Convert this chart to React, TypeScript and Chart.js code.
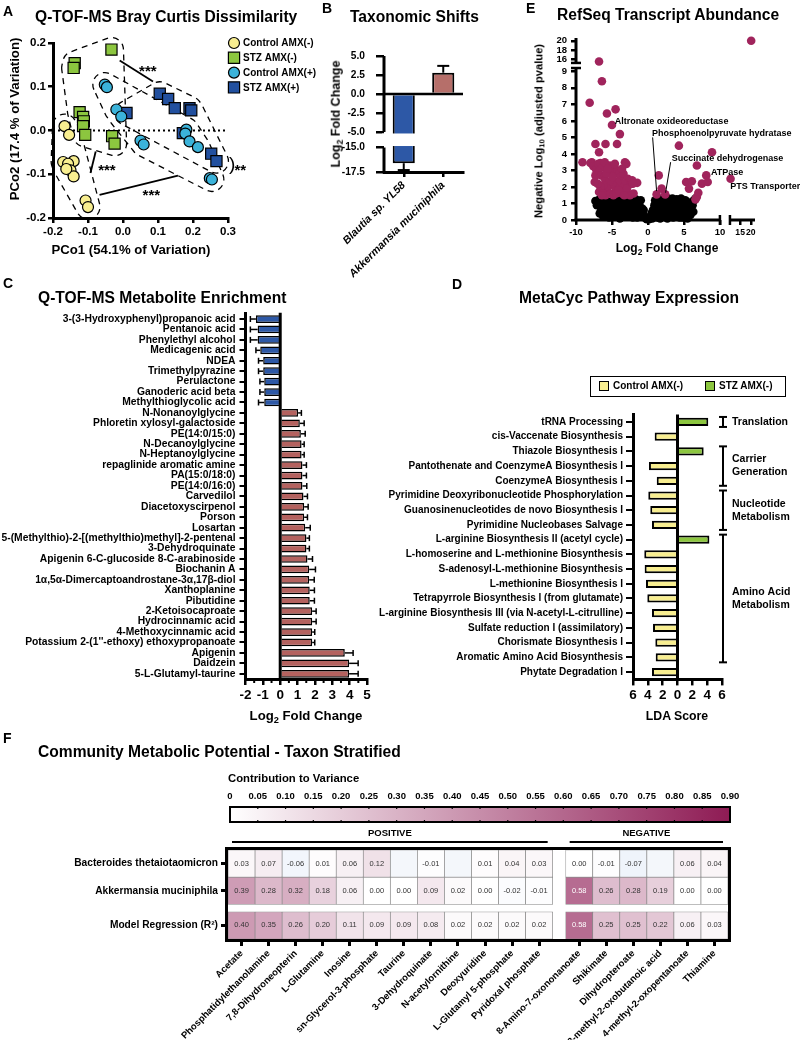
import React, { useEffect, useRef } from 'react';
import { Chart, registerables, LinearScale } from 'chart.js';

Chart.register(...registerables);

const FF = "'Liberation Sans', Arial, Helvetica, sans-serif";

// ======================= DATA =======================
// Panel A – PCoA coordinates [PCo1, PCo2]
const A_CTRL_NEG = [[-0.167, 0.010], [-0.154, -0.010], [-0.171, -0.072], [-0.141, -0.070], [-0.157, -0.076], [-0.150, -0.091], [-0.141, -0.105], [-0.162, -0.088], [-0.107, -0.160], [-0.100, -0.175]];
const A_STZ_NEG = [[-0.138, 0.154], [-0.141, 0.143], [-0.033, 0.185], [-0.124, 0.042], [-0.114, 0.031], [-0.112, 0.021], [-0.114, 0.010], [-0.108, -0.010], [-0.031, -0.013], [-0.024, -0.030]];
const A_CTRL_POS = [[-0.052, 0.105], [-0.046, 0.099], [-0.019, 0.048], [-0.005, 0.032], [0.050, -0.023], [0.059, -0.032], [0.181, 0.002], [0.178, -0.007], [0.190, -0.025], [0.214, -0.038], [0.248, -0.109], [0.254, -0.112]];
const A_STZ_POS = [[0.010, 0.040], [0.105, 0.084], [0.129, 0.072], [0.148, 0.051], [0.190, 0.051], [0.195, 0.046], [0.171, -0.006], [0.252, -0.053], [0.267, -0.070]];
const A_GROUPS = ['Control AMX(-)', 'STZ AMX(-)', 'Control AMX(+)', 'STZ AMX(+)'];
const A_SIG_LINES = [[[-0.0095, 0.160], [0.0857, 0.112]], [[-0.078, -0.048], [-0.093, -0.097]], [[-0.067, -0.147], [0.157, -0.103]]];
const A_SIG_TEXT: [string, number, number][] = [['***', 0.071, 0.143], ['***', -0.046, -0.082], ['***', 0.081, -0.141], ['**', 0.335, -0.082]];
const A_BRACKET = [0.312, -0.078];

// Panel B
const B_TAXA = ['Blautia sp. YL58', 'Akkermansia muciniphila'];
const B_LFC = [-16.6, 2.8];
const B_ERR = [0.7, 0.9];
const B_TICKS = [-17.5, -15, -5, -2.5, 0, 2.5, 5];

// Panel E – volcano [log2FC, -log10 padj]
const E_NS = [
  [-7.1, 0.9], [-6.9, 1.2], [-6.7, 0.4], [-6.5, 0.7], [-6.3, 1.0], [-6.2, 0.2], [-5.9, 1.25], [-5.8, 0.55], [-5.6, 0.85], [-5.4, 0.15],
  [-5.2, 1.1], [-5.1, 0.4], [-4.9, 0.7], [-4.7, 1.3], [-4.5, 0.25], [-4.4, 0.95], [-4.2, 0.55], [-4.0, 1.2], [-3.9, 0.1], [-3.7, 0.75],
  [-3.5, 0.35], [-3.4, 1.05], [-3.2, 0.6], [-3.0, 1.3], [-2.9, 0.2], [-2.8, 0.9], [-2.6, 0.45], [-2.4, 1.15], [-2.3, 0.7], [-2.1, 0.15],
  [-2.0, 0.95], [-1.9, 0.4], [-1.7, 1.25], [-1.6, 0.65], [-1.4, 0.3], [-1.3, 1.0], [-1.1, 0.8], [-0.9, 0.5], [-0.7, 0.35], [-0.5, 0.2],
  [-0.3, 0.1], [-1.0, 1.2], [-7.3, 1.15], [-6.0, 0.75], [-5.3, 0.6], [-4.6, 0.5], [-3.8, 0.95], [-3.1, 0.55], [-2.5, 0.8], [-1.8, 0.8],
  [-4.1, 0.3], [-5.7, 1.05], [-3.6, 1.25], [-2.2, 1.3], [-1.2, 0.55], [-0.8, 0.7], [-0.15, 0.05], [-6.4, 0.45], [-5.0, 0.95], [-4.8, 0.2],
  [-3.3, 0.85], [-2.7, 1.1], [-1.5, 0.15], [-0.6, 0.6], [-6.6, 1.3],
  [0.15, 0.05], [0.3, 0.2], [0.5, 0.4], [0.7, 0.6], [0.8, 0.2], [0.9, 0.9], [1.0, 1.2], [1.2, 0.5], [1.3, 0.15], [1.5, 0.85],
  [1.6, 1.25], [1.8, 0.4], [2.0, 0.7], [2.1, 1.1], [2.3, 0.2], [2.5, 0.55], [2.6, 0.95], [2.8, 1.3], [3.0, 0.35], [3.1, 0.75],
  [3.3, 1.1], [3.5, 0.15], [3.6, 0.55], [3.8, 0.9], [4.0, 1.25], [4.1, 0.3], [4.3, 0.7], [4.5, 1.05], [4.7, 0.45], [4.8, 0.15],
  [5.0, 0.85], [5.2, 1.2], [5.3, 0.5], [5.5, 0.1], [5.6, 0.8], [5.8, 1.05], [6.0, 0.6], [6.2, 0.9], [6.4, 1.2], [6.6, 1.3],
  [1.1, 0.3], [0.6, 0.1], [1.7, 0.1], [2.7, 0.1], [3.9, 0.6], [4.4, 0.15], [5.9, 0.3], [6.3, 0.5], [2.4, 1.25], [3.4, 1.3],
  [4.6, 1.3], [1.4, 0.6], [2.9, 0.55], [5.1, 0.3], [2.2, 0.9]
];
const E_SIG = [
  [-6.8, 15.6], [20.2, 20.0],
  [-6.4, 8.4], [-8.1, 7.1], [-4.5, 6.7], [-5.7, 6.45], [-5.0, 5.75], [-3.9, 5.2], [-7.3, 4.6], [-5.9, 4.6], [-4.3, 4.6], [-6.8, 4.1], [-7.8, 3.5], [-9.1, 3.5],
  [-8.0, 3.45], [-7.6, 3.25], [-7.2, 3.05], [-6.9, 3.4], [-6.6, 3.45], [-6.3, 3.2], [-6.9, 2.9], [-7.3, 2.7], [-6.5, 2.7], [-6.1, 2.6],
  [-5.9, 2.4], [-5.3, 3.3], [-5.0, 3.1], [-4.7, 3.2], [-4.5, 2.9], [-4.2, 3.0], [-4.0, 2.8], [-3.8, 2.6], [-3.2, 3.5], [-3.0, 3.4],
  [-3.4, 2.8], [-2.8, 2.5], [-2.6, 2.3], [-2.3, 2.2], [-3.5, 2.2], [-3.9, 2.0], [-4.3, 2.3], [-4.6, 2.0], [-5.0, 2.2], [-5.4, 2.3],
  [-5.7, 1.9], [-6.2, 2.1], [-6.6, 2.0], [-7.0, 2.2], [-7.4, 2.3], [-6.8, 1.7], [-6.3, 1.6], [-5.9, 1.5], [-5.2, 1.6], [-4.8, 1.5],
  [-4.4, 1.6], [-3.6, 1.6], [-3.2, 1.7], [-2.9, 1.9], [-2.5, 1.5], [-2.0, 1.6], [-4.1, 1.8], [-5.5, 2.9], [-5.8, 2.8], [-4.9, 2.6],
  [-3.6, 3.1], [-6.0, 3.5], [-5.6, 3.1], [-3.3, 1.5], [-2.2, 2.4], [-4.6, 3.4], [-6.4, 1.5], [-1.5, 2.25], [-2.1, 2.2],
  [4.3, 4.5], [8.9, 4.1], [6.8, 3.3], [8.1, 2.7], [10.5, 2.5], [5.3, 2.3], [6.1, 2.35], [5.7, 1.9], [7.5, 2.2], [8.3, 2.3],
  [7.0, 1.65], [6.8, 1.4], [6.6, 1.25], [1.5, 2.7], [1.9, 1.9], [1.2, 1.55], [2.4, 1.55]
];
const E_X_TICKS = [-10, -5, 0, 5, 10, 15, 20];
const E_Y_TICKS = [0, 1, 2, 3, 4, 5, 6, 7, 8, 9, 16, 18, 20];
const E_NOTES = [
  { t: 'Altronate oxideoreductase', x: -4.6, y: 5.98 },
  { t: 'Phosphoenolpyruvate hydratase', x: 0.55, y: 5.26, from: [0.65, 5.0], to: [1.2, 1.75] },
  { t: 'Succinate dehydrogenase', x: 3.3, y: 3.75, from: [3.15, 3.5], to: [2.45, 1.65] },
  { t: 'ATPase', x: 8.75, y: 2.9 },
  { t: 'PTS Transporter', x: 10.3, y: 2.0 },
];

// Panel C
const C_NAMES = ['3-(3-Hydroxyphenyl)propanoic acid', 'Pentanoic acid', 'Phenylethyl alcohol', 'Medicagenic acid', 'NDEA', 'Trimethylpyrazine', 'Perulactone', 'Ganoderic acid beta', 'Methylthioglycolic acid', 'N-Nonanoylglycine', 'Phloretin xylosyl-galactoside', 'PE(14:0/15:0)', 'N-Decanoylglycine', 'N-Heptanoylglycine', 'repaglinide aromatic amine', 'PA(15:0/18:0)', 'PE(14:0/16:0)', 'Carvedilol', 'Diacetoxyscirpenol', 'Porson', 'Losartan', '5-(Methylthio)-2-[(methylthio)methyl]-2-pentenal', '3-Dehydroquinate', 'Apigenin 6-C-glucoside 8-C-arabinoside', 'Biochanin A', '1α,5α-Dimercaptoandrostane-3α,17β-diol', 'Xanthoplanine', 'Pibutidine', '2-Ketoisocaproate', 'Hydrocinnamic acid', '4-Methoxycinnamic acid', "Potassium 2-(1''-ethoxy) ethoxypropanoate", 'Apigenin', 'Daidzein', '5-L-Glutamyl-taurine'];
const C_LFC = [-1.40, -1.30, -1.30, -1.15, -0.98, -0.98, -0.92, -0.92, -0.92, 1.03, 1.13, 1.19, 1.23, 1.23, 1.28, 1.28, 1.28, 1.34, 1.38, 1.38, 1.44, 1.51, 1.51, 1.57, 1.67, 1.67, 1.70, 1.70, 1.84, 1.84, 1.84, 1.84, 3.72, 3.97, 3.97];
const C_ERR = [0.32, 0.42, 0.42, 0.25, 0.27, 0.27, 0.25, 0.25, 0.33, 0.19, 0.25, 0.25, 0.15, 0.15, 0.23, 0.23, 0.25, 0.23, 0.23, 0.19, 0.29, 0.17, 0.17, 0.29, 0.36, 0.29, 0.27, 0.27, 0.23, 0.23, 0.15, 0.15, 0.48, 0.52, 0.52];
const C_MINOR = [-1.5, -0.5, 0.5, 1.5, 2.5, 3.5, 4.5];

// Panel D
const D_PATHWAYS = ['tRNA Processing', 'cis-Vaccenate Biosynthesis', 'Thiazole Biosynthesis I', 'Pantothenate and CoenzymeA Biosynthesis I', 'CoenzymeA Biosynthesis I', 'Pyrimidine Deoxyribonucleotide Phosphorylation', 'Guanosinenucleotides de novo Biosynthesis I', 'Pyrimidine Nucleobases Salvage', 'L-arginine Biosynthesis II (acetyl cycle)', 'L-homoserine and L-methionine Biosynthesis', 'S-adenosyl-L-methionine Biosynthesis', 'L-methionine Biosynthesis I', 'Tetrapyrrole Biosynthesis I (from glutamate)', 'L-arginine Biosynthesis III (via N-acetyl-L-citrulline)', 'Sulfate reduction I (assimilatory)', 'Chorismate Biosynthesis I', 'Aromatic Amino Acid Biosynthesis', 'Phytate Degradation I'];
const D_LDA = [4.15, -3.08, 3.53, -3.85, -2.8, -3.94, -3.67, -3.44, 4.3, -4.48, -4.43, -4.25, -4.07, -3.44, -3.30, -2.99, -2.94, -3.44];
const D_GROUPS = [
  { name: ['Translation'], from: 0, to: 0 },
  { name: ['Carrier', 'Generation'], from: 2, to: 4 },
  { name: ['Nucleotide', 'Metabolism'], from: 5, to: 7 },
  { name: ['Amino Acid', 'Metabolism'], from: 8, to: 16 },
];

// Panel F
const F_POS = ['Acetate', 'Phosphatidylethanolamine', '7,8-Dihydroneopterin', 'L-Glutamine', 'Inosine', 'sn-Glycerol-3-phosphate', 'Taurine', '3-Dehydroquinate', 'N-acetylornithine', 'Deoxyuridine', 'L-Glutamyl 5-phosphate', 'Pyridoxal phosphate'];
const F_NEG = ['8-Amino-7-oxononanoate', 'Shikimate', 'Dihydropteroate', '3-methyl-2-oxobutanoic acid', '4-methyl-2-oxopentanoate', 'Thiamine'];
const F_ROWS = ['Bacteroides thetaiotaomicron', 'Akkermansia muciniphila', 'Model Regression (R²)'];
const F_BACT = [0.03, 0.07, -0.06, 0.01, 0.06, 0.12, null, -0.01, null, 0.01, 0.04, 0.03, 0.00, -0.01, -0.07, null, 0.06, 0.04];
const F_AKK = [0.39, 0.28, 0.32, 0.18, 0.06, 0.00, 0.00, 0.09, 0.02, 0.00, -0.02, -0.01, 0.58, 0.26, 0.28, 0.19, 0.00, 0.00];
const F_MODEL = [0.40, 0.35, 0.26, 0.20, 0.11, 0.09, 0.09, 0.08, 0.02, 0.02, 0.02, 0.02, 0.58, 0.25, 0.25, 0.22, 0.06, 0.03];
const F_CB_TICKS = [0, 0.05, 0.1, 0.15, 0.2, 0.25, 0.3, 0.35, 0.4, 0.45, 0.5, 0.55, 0.6, 0.65, 0.7, 0.75, 0.8, 0.85, 0.9];

// ======================= STYLE / LAYOUT =======================
const YELLOW = '#F8EE90';
const GREEN = '#8CC63F';
const CYAN = '#3BB3DA';
const NAVY = '#22509F';
const BLUE = '#2D58A6';
const ROSE = '#B4625F';
const ROSE_B = '#B66F6A';
const MAROON = '#A0245C';
const HEAT_HI = [142, 27, 84];

const W = 800, H = 1040;
// chart areas in page pixels: [left, top, right, bottom]
const LAYOUT: Record<string, number[]> = {
  A: [53, 43, 228, 218],
  B: [384, 56, 463, 172],
  E: [576, 38, 755, 220],
  C: [245.5, 313.8, 367, 679],
  D: [633, 414.6, 722, 679.4],
  F: [228, 850, 728, 939],
  CB: [230, 807, 730, 822],
};
// broken-axis pieces: [valueFrom, valueTo, fractionFrom, fractionTo]
const B_Y_PIECES = [[-17.5, -15, 0, 0.211], [-5, 5, 0.345, 1]];
const E_X_PIECES = [[-10, 10, 0, 0.804], [10.2, 22, 0.86, 1]];
const E_Y_PIECES = [[0, 9.2, 0, 0.835], [15.3, 20.6, 0.863, 1]];
const F_GAP = 0.48;
const F_ROW_POS = [0, 1, 2.27];

// padding: sides occupied by an axis get 0 padding; the axis box itself is sized to fill that margin
const padFor = (key: string, sides: string[]) => {
  const r = LAYOUT[key];
  return {
    left: sides.includes('left') ? 0 : r[0],
    top: sides.includes('top') ? 0 : r[1],
    right: W - r[2],
    bottom: sides.includes('bottom') ? 0 : H - r[3],
  };
};
const fitTo = (key: string, side: string) => {
  const r = LAYOUT[key];
  const size = side === 'left' ? r[0] : side === 'top' ? r[1] : H - r[3];
  return (s: any) => { if (s.isHorizontal()) s.height = size; else s.width = size; };
};
const fnt = (size: number, extra: any = {}) => ({ family: FF, weight: 'bold', size, ...extra });

function axisOpts(key: string, side: string, o: any = {}) {
  const { border, grid, ticks, ...rest } = o;
  return {
    position: side,
    afterFit: fitTo(key, side),
    border: { display: true, width: 3, color: '#000', ...(border || {}) },
    grid: { display: true, drawOnChartArea: false, drawTicks: true, tickLength: 6, lineWidth: 2.5, color: '#000', offset: false, ...(grid || {}) },
    ticks: { color: '#000', autoSkip: false, padding: 3, font: fnt(11), ...(ticks || {}) },
    ...rest,
  };
}

function pieceDecimal(v: number, P: number[][]) {
  const lin = (p: number[], val: number) => p[2] + (val - p[0]) / (p[1] - p[0]) * (p[3] - p[2]);
  if (v <= P[0][1]) return lin(P[0], v);
  for (let i = 0; i < P.length; i++) {
    const p = P[i];
    if (v >= p[0] && v <= p[1]) return lin(p, v);
    const q = P[i + 1];
    if (q && v > p[1] && v < q[0]) return p[3] + (v - p[1]) / (q[0] - p[1]) * (q[2] - p[3]);
  }
  return lin(P[P.length - 1], v);
}

function registerBroken(id: string, P: number[][]) {
  class Broken extends (LinearScale as any) {
    static id = id;
    static defaults = (LinearScale as any).defaults;
    getPixelForValue(value: any) {
      if (value === null || value === undefined || Number.isNaN(+value)) return NaN;
      return (this as any).getPixelForDecimal(pieceDecimal(+value, P));
    }
  }
  Chart.register(Broken as any);
}
registerBroken('brokenBY', B_Y_PIECES);
registerBroken('brokenEX', E_X_PIECES);
registerBroken('brokenEY', E_Y_PIECES);

function seg(ctx: any, x1: number, y1: number, x2: number, y2: number) {
  ctx.beginPath(); ctx.moveTo(x1, y1); ctx.lineTo(x2, y2); ctx.stroke();
}

function hull(pts: number[][]) {
  const p = pts.slice().sort((a, b) => a[0] - b[0] || a[1] - b[1]);
  const cross = (o: number[], a: number[], b: number[]) => (a[0] - o[0]) * (b[1] - o[1]) - (a[1] - o[1]) * (b[0] - o[0]);
  const lower: number[][] = [];
  for (const q of p) { while (lower.length >= 2 && cross(lower[lower.length - 2], lower[lower.length - 1], q) <= 0) lower.pop(); lower.push(q); }
  const upper: number[][] = [];
  for (let i = p.length - 1; i >= 0; i--) { const q = p[i]; while (upper.length >= 2 && cross(upper[upper.length - 2], upper[upper.length - 1], q) <= 0) upper.pop(); upper.push(q); }
  upper.pop(); lower.pop();
  return lower.concat(upper);
}

function roundedHull(ctx: any, pts: number[][], r: number) {
  const h = hull(pts); const n = h.length;
  if (n < 2) return;
  ctx.beginPath();
  for (let i = 0; i < n; i++) {
    const prev = h[(i - 1 + n) % n], cur = h[i], next = h[(i + 1) % n];
    const a1 = Math.atan2(-(cur[0] - prev[0]), cur[1] - prev[1]);
    let a2 = Math.atan2(-(next[0] - cur[0]), next[1] - cur[1]);
    while (a2 < a1) a2 += Math.PI * 2;
    ctx.arc(cur[0], cur[1], r, a1, a2, false);
  }
  ctx.closePath(); ctx.stroke();
}

function marker(ctx: any, style: string, x: number, y: number, color: string) {
  ctx.save(); ctx.fillStyle = color; ctx.strokeStyle = '#000'; ctx.lineWidth = 1.2; ctx.setLineDash([]);
  ctx.beginPath();
  if (style === 'circle') ctx.arc(x, y, 5.5, 0, Math.PI * 2); else ctx.rect(x - 5.6, y - 5.6, 11.2, 11.2);
  ctx.fill(); ctx.stroke(); ctx.restore();
}

function heat(v: any) {
  if (v === null || v === undefined) return 'rgb(244,247,251)';
  if (v >= 0) {
    const t = Math.min(v / 0.9, 1);
    return `rgb(${Math.round(255 - t * (255 - HEAT_HI[0]))},${Math.round(255 - t * (255 - HEAT_HI[1]))},${Math.round(255 - t * (255 - HEAT_HI[2]))})`;
  }
  const t = Math.min(-v / 0.9, 1);
  return `rgb(${Math.round(255 - t * 200)},${Math.round(255 - t * 140)},${Math.round(255 - t * 50)})`;
}

const baseOpts = (key: string, sides: string[]) => ({
  responsive: false, animation: false as const, events: [] as any[],
  layout: { autoPadding: false, padding: padFor(key, sides) },
  plugins: { legend: { display: false }, tooltip: { enabled: false } },
});

// ======================= PLUGINS =======================
const pluginA = {
  id: 'pA',
  beforeDatasetsDraw(chart: any) {
    const { ctx, chartArea: ca, scales: { x, y } } = chart;
    ctx.save();
    ctx.strokeStyle = '#000'; ctx.lineWidth = 2; ctx.setLineDash([2, 3]);
    const y0 = y.getPixelForValue(0);
    seg(ctx, ca.left, y0, ca.right, y0);
    ctx.setLineDash([6, 5]); ctx.lineWidth = 1.3;
    for (const ds of chart.data.datasets) {
      const pts = ds.data.map((p: any) => [x.getPixelForValue(p.x), y.getPixelForValue(p.y)]);
      roundedHull(ctx, pts, 12);
    }
    ctx.restore();
  },
  afterDraw(chart: any) {
    const { ctx, scales: { x, y } } = chart;
    ctx.save();
    ctx.strokeStyle = '#000'; ctx.lineWidth = 1.8;
    for (const [[x1, y1], [x2, y2]] of A_SIG_LINES) seg(ctx, x.getPixelForValue(x1), y.getPixelForValue(y1), x.getPixelForValue(x2), y.getPixelForValue(y2));
    ctx.fillStyle = '#000'; ctx.font = `bold 15px ${FF}`; ctx.textAlign = 'center'; ctx.textBaseline = 'middle';
    for (const [t, tx, ty] of A_SIG_TEXT) ctx.fillText(t, x.getPixelForValue(tx), y.getPixelForValue(ty) + 4);
    ctx.font = `19px ${FF}`;
    ctx.fillText(')', x.getPixelForValue(A_BRACKET[0]), y.getPixelForValue(A_BRACKET[1]));
    ctx.font = `bold 10px ${FF}`; ctx.textAlign = 'left';
    chart.data.datasets.forEach((ds: any, i: number) => {
      const ly = 43 + i * 14.8;
      marker(ctx, ds.pointStyle, 234, ly, ds.backgroundColor);
      ctx.fillStyle = '#000';
      ctx.fillText(ds.label, 243, ly + 0.5);
    });
    ctx.restore();
  },
};

const pluginB = {
  id: 'pB',
  afterDatasetsDraw(chart: any) {
    const { ctx, chartArea: ca, scales: { x, y } } = chart;
    ctx.save();
    ctx.strokeStyle = '#000'; ctx.lineWidth = 2;
    B_LFC.forEach((v, i) => {
      const xc = x.getPixelForValue(i);
      const y1 = y.getPixelForValue(v), y2 = y.getPixelForValue(v + Math.sign(v) * B_ERR[i]);
      seg(ctx, xc, y1, xc, y2); seg(ctx, xc - 6, y2, xc + 6, y2);
    });
    const gTop = y.getPixelForValue(B_Y_PIECES[1][0]) + 1.5;
    const gBot = y.getPixelForValue(B_Y_PIECES[0][1]) - 1.5;
    ctx.fillStyle = '#fff'; ctx.fillRect(ca.left - 2, gTop, ca.right - ca.left + 10, gBot - gTop);
    ctx.lineWidth = 3;
    B_Y_PIECES.forEach((p, i) => {
      const a = y.getPixelForValue(p[0]) + (i === 0 ? 1.5 : 0);
      seg(ctx, ca.left, a, ca.left, y.getPixelForValue(p[1]));
    });
    ctx.lineWidth = 2.5;
    const y0 = y.getPixelForValue(0);
    seg(ctx, ca.left, y0, ca.right, y0);
    ctx.restore();
  },
};

const pluginE = {
  id: 'pE',
  beforeDatasetsDraw(chart: any) {
    const { ctx, chartArea: ca, scales: { x, y } } = chart;
    ctx.save(); ctx.strokeStyle = '#000'; ctx.lineWidth = 3;
    E_X_PIECES.forEach((p, i) => seg(ctx, x.getPixelForValue(p[0]) - (i === 0 ? 1.5 : 0), ca.bottom, x.getPixelForValue(p[1]), ca.bottom));
    E_Y_PIECES.forEach((p) => seg(ctx, ca.left, y.getPixelForValue(p[0]), ca.left, y.getPixelForValue(p[1])));
    ctx.lineWidth = 2.5;
    for (let i = 0; i < E_X_PIECES.length - 1; i++) {
      const a = x.getPixelForValue(E_X_PIECES[i][1]), b = x.getPixelForValue(E_X_PIECES[i + 1][0]);
      seg(ctx, a, ca.bottom - 5, a, ca.bottom + 5); seg(ctx, b, ca.bottom - 5, b, ca.bottom + 5);
    }
    for (let i = 0; i < E_Y_PIECES.length - 1; i++) {
      const a = y.getPixelForValue(E_Y_PIECES[i][1]), b = y.getPixelForValue(E_Y_PIECES[i + 1][0]);
      seg(ctx, ca.left - 5, a, ca.left + 5, a); seg(ctx, ca.left - 5, b, ca.left + 5, b);
    }
    ctx.restore();
  },
  afterDatasetsDraw(chart: any) {
    const { ctx, scales: { x, y } } = chart;
    ctx.save();
    ctx.strokeStyle = '#000'; ctx.lineWidth = 1;
    ctx.fillStyle = '#000'; ctx.font = `bold 9px ${FF}`; ctx.textAlign = 'left'; ctx.textBaseline = 'middle';
    for (const n of E_NOTES) {
      if (n.from && n.to) seg(ctx, x.getPixelForValue(n.from[0]), y.getPixelForValue(n.from[1]), x.getPixelForValue(n.to[0]), y.getPixelForValue(n.to[1]));
      ctx.fillText(n.t, x.getPixelForValue(n.x), y.getPixelForValue(n.y));
    }
    ctx.restore();
  },
};

const pluginC = {
  id: 'pC',
  afterDatasetsDraw(chart: any) {
    const { ctx, chartArea: ca, scales: { x, y } } = chart;
    ctx.save(); ctx.strokeStyle = '#000';
    ctx.lineWidth = 1.5;
    C_LFC.forEach((v, i) => {
      const yc = y.getPixelForValue(i);
      const xa = x.getPixelForValue(v), xb = x.getPixelForValue(v + Math.sign(v) * C_ERR[i]);
      seg(ctx, xa, yc, xb, yc); seg(ctx, xb, yc - 3, xb, yc + 3);
    });
    ctx.lineWidth = 3;
    const x0 = x.getPixelForValue(0);
    seg(ctx, x0, ca.top - 1, x0, ca.bottom);
    ctx.lineWidth = 2;
    for (const m of C_MINOR) { const px = x.getPixelForValue(m); seg(ctx, px, ca.bottom, px, ca.bottom + 4); }
    ctx.restore();
  },
};

const pluginD = {
  id: 'pD',
  afterDatasetsDraw(chart: any) {
    const { ctx, chartArea: ca, scales: { x, y } } = chart;
    ctx.save(); ctx.strokeStyle = '#000'; ctx.fillStyle = '#000';
    ctx.lineWidth = 3;
    const x0 = x.getPixelForValue(0);
    seg(ctx, x0, ca.top, x0, ca.bottom);
    ctx.lineWidth = 2;
    const bx = ca.right + 1;
    ctx.font = `bold 10.5px ${FF}`; ctx.textAlign = 'left'; ctx.textBaseline = 'middle';
    for (const g of D_GROUPS) {
      const y1 = y.getPixelForValue(g.from) - 5, y2 = y.getPixelForValue(g.to) + 5;
      seg(ctx, bx, y1, bx, y2); seg(ctx, bx - 4, y1, bx + 4, y1); seg(ctx, bx - 4, y2, bx + 4, y2);
      const mid = (y1 + y2) / 2;
      g.name.forEach((t, k) => ctx.fillText(t, bx + 9, mid + (k - (g.name.length - 1) / 2) * 13));
    }
    ctx.restore();
  },
};

const fColPos = (i: number) => (i < F_POS.length ? i : i + F_GAP);
const F_COLS = [...F_POS, ...F_NEG];
const F_VALUES = [F_BACT, F_AKK, F_MODEL];

const pluginF = {
  id: 'pF',
  afterDatasetsDraw(chart: any) {
    const { ctx, chartArea: ca, scales: { x } } = chart;
    ctx.save();
    ctx.font = `7.5px ${FF}`; ctx.textAlign = 'center'; ctx.textBaseline = 'middle';
    chart.data.datasets.forEach((ds: any, di: number) => {
      const meta = chart.getDatasetMeta(di);
      meta.data.forEach((el: any, i: number) => {
        const v = ds.data[i].v;
        if (v === null || v === undefined) return;
        ctx.fillStyle = v > 0.5 ? '#fff' : '#333';
        ctx.fillText(v.toFixed(2), el.x, (el.y + el.base) / 2);
      });
    });
    ctx.lineWidth = 3; ctx.strokeStyle = '#000';
    ctx.strokeRect(ca.left - 1.5, ca.top - 1.5, ca.right - ca.left + 3, ca.bottom - ca.top + 3);
    const secs: [number, number, string][] = [[0, F_POS.length - 1, 'POSITIVE'], [F_POS.length, F_COLS.length - 1, 'NEGATIVE']];
    ctx.font = `bold 9.5px ${FF}`; ctx.fillStyle = '#000'; ctx.lineWidth = 2;
    for (const [a, b, t] of secs) {
      const l = x.getPixelForValue(fColPos(a) - 0.5) + 4, r = x.getPixelForValue(fColPos(b) + 0.5) - 5;
      seg(ctx, l, ca.top - 8, r, ca.top - 8);
      ctx.fillText(t, (l + r) / 2, ca.top - 17);
    }
    ctx.restore();
  },
};

const pluginCB = {
  id: 'pCB',
  afterDraw(chart: any) {
    const { ctx, chartArea: ca, scales: { x } } = chart;
    ctx.save();
    const g = ctx.createLinearGradient(x.getPixelForValue(0), 0, x.getPixelForValue(0.9), 0);
    g.addColorStop(0, heat(0)); g.addColorStop(1, heat(0.9));
    ctx.fillStyle = g; ctx.fillRect(ca.left, ca.top, ca.right - ca.left, ca.bottom - ca.top);
    ctx.strokeStyle = '#000'; ctx.lineWidth = 1.2;
    for (const t of F_CB_TICKS) {
      const px = x.getPixelForValue(t);
      seg(ctx, px, ca.top, px, ca.top + 2); seg(ctx, px, ca.bottom - 2, px, ca.bottom);
    }
    ctx.lineWidth = 2;
    ctx.strokeRect(ca.left, ca.top, ca.right - ca.left, ca.bottom - ca.top);
    ctx.restore();
  },
};

// ======================= CHART BUILDERS =======================
const LB = ['left', 'bottom'];

function makeA(c: HTMLCanvasElement) {
  const sets = [
    { pts: A_CTRL_NEG, color: YELLOW, style: 'circle' },
    { pts: A_STZ_NEG, color: GREEN, style: 'rect' },
    { pts: A_CTRL_POS, color: CYAN, style: 'circle' },
    { pts: A_STZ_POS, color: NAVY, style: 'rect' },
  ];
  return new Chart(c, {
    type: 'scatter',
    data: {
      datasets: sets.map((s, i) => ({
        label: A_GROUPS[i],
        data: s.pts.map(([px, py]) => ({ x: px, y: py })),
        pointStyle: s.style, pointRadius: s.style === 'circle' ? 5.5 : 7.9,
        backgroundColor: s.color, borderColor: '#000', borderWidth: 1.2, clip: false,
      })),
    },
    options: {
      ...baseOpts('A', LB),
      scales: {
        x: axisOpts('A', 'bottom', { min: -0.2, max: 0.3, grid: { tickLength: 5 }, ticks: { stepSize: 0.1, font: fnt(11.5), padding: 2, maxRotation: 0, callback: (v: any) => (+v).toFixed(1) } }),
        y: axisOpts('A', 'left', { min: -0.2, max: 0.2, grid: { tickLength: 5 }, ticks: { stepSize: 0.1, font: fnt(11.5), padding: 2, callback: (v: any) => (+v).toFixed(1) } }),
      },
    } as any,
    plugins: [pluginA],
  });
}

function makeB(c: HTMLCanvasElement) {
  return new Chart(c, {
    type: 'bar',
    data: {
      labels: B_TAXA,
      datasets: [{ data: B_LFC, backgroundColor: B_LFC.map((v) => (v < 0 ? BLUE : ROSE_B)), borderColor: '#000', borderWidth: 2, barPercentage: 0.56, categoryPercentage: 1 }],
    },
    options: {
      ...baseOpts('B', LB),
      scales: {
        x: axisOpts('B', 'bottom', { grid: { tickLength: 5 }, ticks: { minRotation: 45, maxRotation: 45, padding: 2, font: fnt(10.8, { style: 'italic' }) } }),
        y: axisOpts('B', 'left', {
          type: 'brokenBY', min: -17.5, max: 5, border: { display: false },
          afterBuildTicks: (s: any) => { s.ticks = B_TICKS.map((v) => ({ value: v })); },
          grid: { tickLength: 8 }, ticks: { font: fnt(10.2), padding: 11, callback: (v: any) => (+v).toFixed(1) },
        }),
      },
    } as any,
    plugins: [pluginB],
  });
}

function makeE(c: HTMLCanvasElement) {
  return new Chart(c, {
    type: 'scatter',
    data: {
      datasets: [
        { data: E_SIG.map(([px, py]) => ({ x: px, y: py })), backgroundColor: MAROON, borderWidth: 0, pointRadius: 4.3, clip: false },
        { data: E_NS.map(([px, py]) => ({ x: px, y: py })), backgroundColor: '#000', borderWidth: 0, pointRadius: 4.3, clip: false },
      ],
    },
    options: {
      ...baseOpts('E', LB),
      scales: {
        x: axisOpts('E', 'bottom', {
          type: 'brokenEX', min: -10, max: 22, border: { display: false },
          afterBuildTicks: (s: any) => { s.ticks = E_X_TICKS.map((v) => ({ value: v })); },
          grid: { tickLength: 5 },
          ticks: {
            padding: 2, maxRotation: 0, minRotation: 0, callback: (v: any) => String(v),
            font: (c: any) => fnt(c.tick && c.tick.value > 10 ? 8.6 : 9.5),
          },
        }),
        y: axisOpts('E', 'left', {
          type: 'brokenEY', min: 0, max: 20.6, border: { display: false },
          afterBuildTicks: (s: any) => { s.ticks = E_Y_TICKS.map((v) => ({ value: v })); },
          grid: { tickLength: 5 }, ticks: { font: fnt(9.5), padding: 4, callback: (v: any) => String(v) },
        }),
      },
    } as any,
    plugins: [pluginE],
  });
}

function makeC(c: HTMLCanvasElement) {
  return new Chart(c, {
    type: 'bar',
    data: {
      labels: C_NAMES,
      datasets: [{ data: C_LFC, backgroundColor: C_LFC.map((v) => (v < 0 ? BLUE : ROSE)), borderColor: '#000', borderWidth: 1.5, barPercentage: 0.74, categoryPercentage: 1 }],
    },
    options: {
      ...baseOpts('C', LB),
      indexAxis: 'y',
      scales: {
        x: axisOpts('C', 'bottom', { min: -2, max: 5, grid: { tickLength: 6 }, ticks: { stepSize: 1, font: fnt(13.5), padding: 2, maxRotation: 0 } }),
        y: axisOpts('C', 'left', { grid: { tickLength: 6, lineWidth: 2 }, ticks: { font: fnt(10.3), padding: 4 } }),
      },
    } as any,
    plugins: [pluginC],
  });
}

function makeD(c: HTMLCanvasElement) {
  return new Chart(c, {
    type: 'bar',
    data: {
      labels: D_PATHWAYS,
      datasets: [{ data: D_LDA, backgroundColor: D_LDA.map((v) => (v < 0 ? YELLOW : GREEN)), borderColor: '#000', borderWidth: 2, barPercentage: 0.56, categoryPercentage: 1 }],
    },
    options: {
      ...baseOpts('D', LB),
      indexAxis: 'y',
      scales: {
        x: axisOpts('D', 'bottom', { min: -6, max: 6, grid: { tickLength: 6 }, ticks: { stepSize: 2, font: fnt(13.5), padding: 2, maxRotation: 0, callback: (v: any) => String(Math.abs(+v)) } }),
        y: axisOpts('D', 'left', { grid: { tickLength: 7, lineWidth: 2 }, ticks: { font: fnt(10), padding: 3 } }),
      },
    } as any,
    plugins: [pluginD],
  });
}

function makeF(c: HTMLCanvasElement) {
  return new Chart(c, {
    type: 'bar',
    data: {
      datasets: F_ROWS.map((name, r) => ({
        label: name,
        data: F_COLS.map((_, i) => ({ x: fColPos(i), y: [F_ROW_POS[r] - 0.5, F_ROW_POS[r] + 0.5], v: F_VALUES[r][i] })),
        backgroundColor: (ctx: any) => heat(ctx.raw ? ctx.raw.v : null),
        borderColor: '#8a8a8a', borderWidth: 0.7, borderSkipped: false,
        barPercentage: 1, categoryPercentage: 1, grouped: false,
      })),
    },
    options: {
      ...baseOpts('F', LB),
      scales: {
        x: axisOpts('F', 'bottom', {
          type: 'linear', min: -0.5, max: F_COLS.length - 1 + F_GAP + 0.5, offset: false, border: { display: false },
          afterBuildTicks: (s: any) => { s.ticks = F_COLS.map((_, i) => ({ value: fColPos(i) })); },
          grid: { tickLength: 7, lineWidth: 3 },
          ticks: { minRotation: 45, maxRotation: 45, padding: 2, font: fnt(9.5), callback: (_v: any, i: number) => F_COLS[i] },
        }),
        y: axisOpts('F', 'left', {
          type: 'linear', min: -0.5, max: F_ROW_POS[2] + 0.5, reverse: true, border: { display: false },
          afterBuildTicks: (s: any) => { s.ticks = F_ROW_POS.map((v) => ({ value: v })); },
          grid: { tickLength: 7, lineWidth: 3 },
          ticks: { font: fnt(10.2), padding: 3, callback: (_v: any, i: number) => F_ROWS[i] },
        }),
      },
    } as any,
    plugins: [pluginF],
  });
}

function makeCB(c: HTMLCanvasElement) {
  return new Chart(c, {
    type: 'scatter',
    data: { datasets: [] },
    options: {
      ...baseOpts('CB', ['top']),
      scales: {
        x: {
          type: 'linear', position: 'top', min: 0, max: 0.9, afterFit: fitTo('CB', 'top'),
          afterBuildTicks: (s: any) => { s.ticks = F_CB_TICKS.map((v) => ({ value: v })); },
          border: { display: false }, grid: { display: false, drawTicks: false },
          ticks: { autoSkip: false, padding: 5, minRotation: 0, maxRotation: 0, color: '#000', font: fnt(9.5), callback: (v: any) => (+v === 0 ? '0' : (+v).toFixed(2)) },
        },
        y: { display: false, min: 0, max: 1 },
      },
    } as any,
    plugins: [pluginCB],
  });
}

// ======================= TEXT =======================
const Sub = ({ children }: any) => <span style={{ fontSize: '0.7em', position: 'relative', top: '0.3em' }}>{children}</span>;

const Txt = ({ x, y, size, rot, center, children, weight = 'bold' }: any) => (
  <div style={{
    position: 'absolute', left: x, top: y, font: `${weight} ${size}px ${FF}`, lineHeight: 1, whiteSpace: 'nowrap', color: '#000',
    transform: rot ? 'translate(-50%,-50%) rotate(-90deg)' : center ? 'translate(-50%,-50%)' : 'translateY(-50%)',
  }}>{children}</div>
);

export default function App() {
  const rA = useRef<HTMLCanvasElement>(null);
  const rB = useRef<HTMLCanvasElement>(null);
  const rE = useRef<HTMLCanvasElement>(null);
  const rC = useRef<HTMLCanvasElement>(null);
  const rD = useRef<HTMLCanvasElement>(null);
  const rF = useRef<HTMLCanvasElement>(null);
  const rCB = useRef<HTMLCanvasElement>(null);

  useEffect(() => {
    const charts = [
      makeA(rA.current!), makeB(rB.current!), makeE(rE.current!), makeC(rC.current!),
      makeD(rD.current!), makeF(rF.current!), makeCB(rCB.current!),
    ];
    return () => charts.forEach((c) => c.destroy());
  }, []);

  const cv = { position: 'absolute' as const, left: 0, top: 0, width: W, height: H };
  return (
    <div style={{ position: 'absolute', left: 0, top: 0, width: W, height: H, overflow: 'hidden', background: '#fff' }}>
      {[rA, rB, rE, rC, rD, rF, rCB].map((r, i) => <canvas key={i} ref={r} width={W} height={H} style={cv} />)}

      <Txt x={3} y={11} size={14}>A</Txt>
      <Txt x={35} y={17} size={15.6}>Q-TOF-MS Bray Curtis Dissimilarity</Txt>
      <Txt x={15} y={119} size={13.2} rot>PCo2 (17.4 % of Variation)</Txt>
      <Txt x={131} y={250} size={13.2} center>PCo1 (54.1% of Variation)</Txt>

      <Txt x={322} y={8} size={14}>B</Txt>
      <Txt x={350} y={17} size={15.6}>Taxonomic Shifts</Txt>
      <Txt x={336} y={114} size={12.5} rot>Log<Sub>2</Sub> Fold Change</Txt>

      <Txt x={526} y={8} size={14}>E</Txt>
      <Txt x={557} y={15} size={15.6}>RefSeq Transcript Abundance</Txt>
      <Txt x={539} y={131} size={11.2} rot>Negative Log<Sub>10</Sub> (adjusted pvalue)</Txt>
      <Txt x={667} y={248} size={12} center>Log<Sub>2</Sub> Fold Change</Txt>

      <Txt x={3} y={283} size={14}>C</Txt>
      <Txt x={38} y={298} size={15.6}>Q-TOF-MS Metabolite Enrichment</Txt>
      <Txt x={306} y={716} size={13.2} center>Log<Sub>2</Sub> Fold Change</Txt>

      <Txt x={452} y={284} size={14}>D</Txt>
      <Txt x={519} y={298} size={15.6}>MetaCyc Pathway Expression</Txt>
      <Txt x={677} y={716} size={12.3} center>LDA Score</Txt>
      <div style={{ position: 'absolute', left: 590, top: 376, width: 196, height: 21, border: '1.5px solid #000', boxSizing: 'border-box' }}>
        <div style={{ position: 'absolute', left: 8, top: 4, width: 10, height: 10, background: YELLOW, border: '1.5px solid #000', boxSizing: 'border-box' }} />
        <div style={{ position: 'absolute', left: 22, top: 9, transform: 'translateY(-50%)', font: `bold 10px ${FF}`, lineHeight: 1, whiteSpace: 'nowrap' }}>Control AMX(-)</div>
        <div style={{ position: 'absolute', left: 114, top: 4, width: 10, height: 10, background: GREEN, border: '1.5px solid #000', boxSizing: 'border-box' }} />
        <div style={{ position: 'absolute', left: 128, top: 9, transform: 'translateY(-50%)', font: `bold 10px ${FF}`, lineHeight: 1, whiteSpace: 'nowrap' }}>STZ AMX(-)</div>
      </div>

      <Txt x={3} y={738} size={14}>F</Txt>
      <Txt x={38} y={752} size={15.6}>Community Metabolic Potential - Taxon Stratified</Txt>
      <Txt x={228} y={779} size={11.3}>Contribution to Variance</Txt>
    </div>
  );
}
